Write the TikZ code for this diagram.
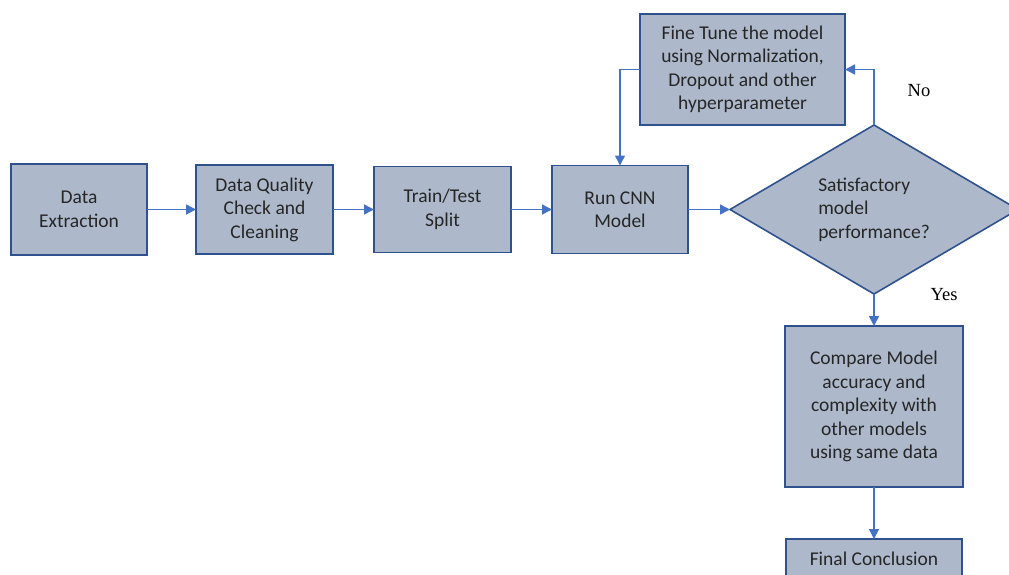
\documentclass[tikz,border=0pt]{standalone}
\usepackage{fontspec}
\setmainfont{Carlito}
\newfontfamily\answerfont{Liberation Serif}
\usepackage{tikz}
\usetikzlibrary{arrows.meta,positioning,shapes.geometric}
\definecolor{boxfill}{HTML}{ADB9CA}
\definecolor{boxline}{HTML}{2F528F}
\definecolor{arrowblue}{HTML}{4472C4}
\tikzset{
  flowbox/.style={draw=boxline, line width=1.6pt, fill=boxfill, align=center, inner sep=2pt, outer sep=0pt,
    text=black!85, font=\fontsize{19.5}{23.5}\selectfont},
  decision/.style={flowbox, diamond, aspect=1.7, inner sep=0pt, align=left,
    minimum width=288pt, minimum height=169pt},
  answer/.style={font=\answerfont\fontsize{18.5}{22}\selectfont, inner sep=0pt},
  flowarrow/.style={-{Triangle[length=10pt,width=10pt]}, draw=arrowblue, line width=1.6pt}
}
\begin{document}
\begin{tikzpicture}[x=1pt,y=-1pt]
  \useasboundingbox (0,0) rectangle (1009,574);
  \node[flowbox, minimum width=136pt, minimum height=91pt] (extract) at (79,209.5) {Data\\Extraction};
  \node[flowbox, minimum width=137pt, minimum height=89pt, right=49pt of extract] (quality) {Data Quality\\Check and\\Cleaning};
  \node[flowbox, minimum width=137pt, minimum height=86pt, right=41pt of quality] (split) {Train/Test\\Split};
  \node[flowbox, minimum width=136pt, minimum height=88pt, right=41pt of split] (runcnn) {Run CNN\\Model};
  \node[decision, right=42pt of runcnn] (satisf) {Satisfactory\\model\\performance?};
  \node[flowbox, minimum width=205pt, minimum height=111pt] (tune) at (742.5,69.5) {Fine Tune the model\\using Normalization,\\Dropout and other\\hyperparameter};
  \node[flowbox, minimum width=178pt, minimum height=161pt, below=32pt of satisf] (compare) {Compare Model\\accuracy and\\complexity with\\other models\\using same data};
  \node[flowbox, minimum width=176pt, minimum height=40pt, below=52pt of compare] (final) {Final Conclusion};
  \node[answer] (no) at (919,91) {No};
  \node[answer] (yes) at (944,295) {Yes};
  % main chain
  \draw[flowarrow] (extract) -- (quality);
  \draw[flowarrow] (quality) -- (split);
  \draw[flowarrow] (split) -- (runcnn);
  \draw[flowarrow] (runcnn) -- (satisf);
  % tuning loop
  \draw[flowarrow] (satisf.north) |- (tune.east);
  \draw[flowarrow] (tune.west) -| (runcnn.north);
  \draw[flowarrow] (satisf) -- (compare);
  \draw[flowarrow] (compare) -- (final);
\end{tikzpicture}
\end{document}
